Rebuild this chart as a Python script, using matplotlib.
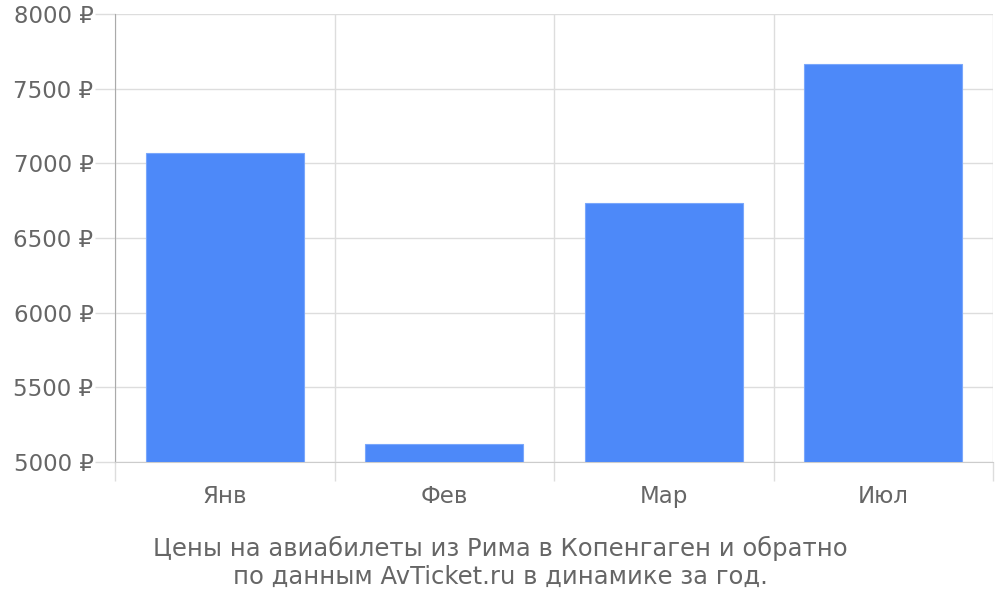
import matplotlib
matplotlib.use("Agg")
import matplotlib.pyplot as plt
from matplotlib.ticker import FixedLocator, FuncFormatter

categories = ["Янв", "Фев", "Мар", "Июл"]
prices = [7066, 5118, 6735, 7662]
y_ticks = [5000, 5500, 6000, 6500, 7000, 7500, 8000]
caption = "Цены на авиабилеты из Рима в Копенгаген и обратно\nпо данным AvTicket.ru в динамике за год."

text_color = "#666666"
grid_color = "#dddddd"
bar_color = "#4d89f9"

fig = plt.figure(figsize=(10, 6), dpi=100)
ax = fig.add_axes([0.115, 0.23, 0.878, 0.7467])

x = list(range(len(categories)))
ax.bar(x, [p - 5000 for p in prices], bottom=5000, width=0.72, color=bar_color,
       edgecolor="#7aa7fb", linewidth=0.8, zorder=3)

ax.set_xlim(-0.5, len(categories) - 0.5)
ax.set_ylim(5000, 8000)

ax.yaxis.set_major_locator(FixedLocator(y_ticks))
ax.yaxis.set_major_formatter(FuncFormatter(lambda v, p: f"{int(v)} ₽"))
ax.set_xticks(x)
ax.set_xticklabels(categories)
ax.xaxis.set_minor_locator(FixedLocator([i + 0.5 for i in range(-1, len(categories))]))

ax.grid(axis="y", which="major", color=grid_color, linewidth=1, zorder=0)
ax.grid(axis="x", which="minor", color=grid_color, linewidth=1, zorder=0)

ax.tick_params(axis="y", which="major", length=14.5, color=grid_color, width=1,
               labelsize=16.5, labelcolor=text_color, pad=1)
ax.tick_params(axis="x", which="major", length=0, labelsize=16.5,
               labelcolor=text_color, pad=16.5)
ax.tick_params(axis="x", which="minor", length=13.5, color=grid_color, width=1)

for s in ["top", "right"]:
    ax.spines[s].set_visible(False)
ax.spines["left"].set_color("#aaaaaa")
ax.spines["bottom"].set_color("#cccccc")

fig.text(0.5, 0.018, caption, ha="center", va="bottom", fontsize=17.5,
         color=text_color, linespacing=1.22)

fig.savefig("out.png", dpi=100)
